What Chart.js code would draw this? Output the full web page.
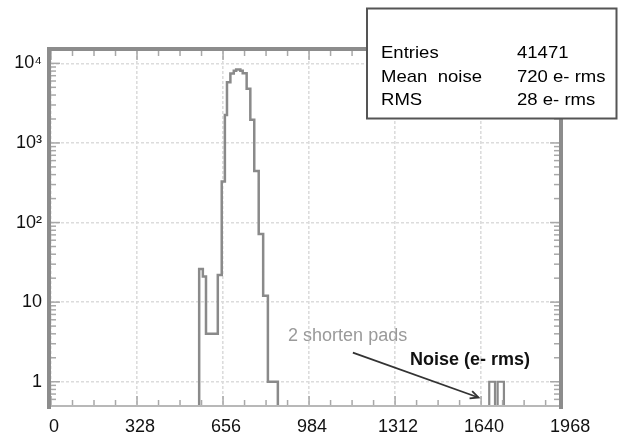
<!DOCTYPE html>
<html><head><meta charset="utf-8">
<script src="https://cdn.jsdelivr.net/npm/chart.js@4"></script>
<style>html,body{margin:0;padding:0;background:#fff;}</style>
</head><body>
<canvas id="c" width="618" height="436"></canvas>
<script>
// ---- data ----
const binEdges  = [565, 579, 591, 636, 651, 663, 671, 684, 697, 706, 722, 731, 746, 760, 775, 792, 809, 827, 865];
const binCounts = [26, 21, 4, 22, 327, 2250, 5800, 7480, 8100, 8350, 8050, 7500, 4800, 1950, 445, 72, 12, 1];
const padEdges  = [1671, 1693, 1703, 1727];
const padCounts = [1, 0, 1];
const xTicks = [0, 328, 656, 984, 1312, 1640, 1968];
const yTicks = [1, 10, 100, 1000, 10000];
const yTickLabels = ['1', '10', '10\u00B2', '10\u00B3', '10\u2074'];
const statNames  = ['Entries', 'Mean  noise', 'RMS'];
const statValues = ['41471', '720 e- rms', '28 e- rms'];
const noteText = '2 shorten pads';
const axisTitle = 'Noise (e- rms)';

const X_MIN = 0, X_MAX = 1937, Y_MIN = 0.51, Y_MAX = 14300, FLOOR = 0.1;
const FONT = '"Liberation Sans", Arial, sans-serif';

function stepPoints(edges, counts) {
  const pts = [{x: edges[0], y: FLOOR}];
  for (let i = 0; i < counts.length; i++) pts.push({x: edges[i], y: counts[i] > 0 ? counts[i] : FLOOR});
  pts.push({x: edges[edges.length - 1], y: FLOOR});
  return pts;
}

const framePlugin = {
  id: 'frame',
  afterDatasetsDraw(chart) {
    const ctx = chart.ctx, a = chart.chartArea, xs = chart.scales.x, ys = chart.scales.y;
    ctx.save();
    ctx.strokeStyle = '#a8a8a8'; ctx.lineWidth = 1.5;
    for (let v = 0; v <= X_MAX; v += 82) {
      const px = xs.getPixelForValue(v);
      const major = (v % 328 === 0);
      const len = major ? 9 : 5;
      ctx.beginPath(); ctx.moveTo(px, a.bottom); ctx.lineTo(px, a.bottom - len); ctx.stroke();
      ctx.beginPath(); ctx.moveTo(px, a.top); ctx.lineTo(px, a.top + len); ctx.stroke();
    }
    for (let d = -1; d <= 4; d++) {
      for (let k = 1; k <= 9; k++) {
        const v = k * Math.pow(10, d);
        if (v < Y_MIN || v > Y_MAX) continue;
        const py = ys.getPixelForValue(v);
        const len = k === 1 ? 9 : 5;
        ctx.beginPath(); ctx.moveTo(a.left, py); ctx.lineTo(a.left + len, py); ctx.stroke();
        ctx.beginPath(); ctx.moveTo(a.right, py); ctx.lineTo(a.right - len, py); ctx.stroke();
      }
    }
    ctx.strokeStyle = '#b8b8b8'; ctx.lineWidth = 2;
    ctx.beginPath(); ctx.moveTo(a.left - 4, a.bottom + 1); ctx.lineTo(a.right + 4, a.bottom + 1); ctx.stroke();
    ctx.strokeStyle = '#8c8c8c'; ctx.lineWidth = 4;
    ctx.beginPath();
    ctx.moveTo(a.left - 2, a.bottom + 4); ctx.lineTo(a.left - 2, a.top - 2);
    ctx.lineTo(a.right + 2, a.top - 2); ctx.lineTo(a.right + 2, a.bottom + 4);
    ctx.stroke();

    ctx.font = '18px ' + FONT; ctx.fillStyle = '#9a9a9a'; ctx.textBaseline = 'middle'; ctx.textAlign = 'left';
    ctx.fillText(noteText, xs.getPixelForValue(904), ys.getPixelForValue(3.76));
    ctx.font = 'bold 18px ' + FONT; ctx.fillStyle = '#111';
    ctx.fillText(axisTitle, xs.getPixelForValue(1369), ys.getPixelForValue(1.88));
    const x1 = xs.getPixelForValue(1151), y1 = ys.getPixelForValue(2.32);
    const x2 = xs.getPixelForValue(1630), y2 = ys.getPixelForValue(0.634);
    ctx.strokeStyle = '#333'; ctx.lineWidth = 1.8;
    ctx.beginPath(); ctx.moveTo(x1, y1); ctx.lineTo(x2, y2); ctx.stroke();
    const ang = Math.atan2(y2 - y1, x2 - x1), L = 9;
    ctx.beginPath();
    ctx.moveTo(x2 - L * Math.cos(ang - 0.45), y2 - L * Math.sin(ang - 0.45));
    ctx.lineTo(x2, y2);
    ctx.lineTo(x2 - L * Math.cos(ang + 0.45), y2 - L * Math.sin(ang + 0.45));
    ctx.stroke();
    ctx.restore();
  },
  afterDraw(chart) {
    const ctx = chart.ctx;
    ctx.save();
    ctx.fillStyle = '#fff'; ctx.strokeStyle = '#555'; ctx.lineWidth = 2;
    ctx.fillRect(367, 8.5, 249.5, 110);
    ctx.strokeRect(367, 8.5, 249.5, 110);
    ctx.font = '17px ' + FONT; ctx.fillStyle = '#000'; ctx.textBaseline = 'middle';
    const rows = [53, 77, 100];
    for (let i = 0; i < statNames.length; i++) {
      ctx.save(); ctx.translate(381, rows[i]); ctx.scale(1.09, 1);
      ctx.fillText(statNames[i], 0, 0); ctx.restore();
      ctx.save(); ctx.translate(517, rows[i]); ctx.scale(1.09, 1);
      ctx.fillText(statValues[i], 0, 0); ctx.restore();
    }
    ctx.restore();
  }
};

new Chart(document.getElementById('c'), {
  type: 'line',
  data: {
    datasets: [
      {data: stepPoints(binEdges, binCounts), stepped: 'before', borderColor: '#8a8a8a', borderWidth: 2.5, pointRadius: 0, fill: false},
      {data: stepPoints(padEdges, padCounts), stepped: 'before', borderColor: '#8a8a8a', borderWidth: 2.2, pointRadius: 0, fill: false}
    ]
  },
  options: {
    responsive: false, animation: false, devicePixelRatio: 1,
    layout: {padding: {top: 51, right: 59, left: 0, bottom: 0}},
    plugins: {legend: {display: false}, tooltip: {enabled: false}},
    scales: {
      x: {
        type: 'linear', min: X_MIN, max: X_MAX,
        afterBuildTicks: s => { s.ticks = xTicks.map(v => ({value: v})); },
        afterFit: s => { s.height = 31; },
        ticks: {autoSkip: false, maxRotation: 0, padding: 11, labelOffset: 3, color: '#111', font: {family: FONT, size: 18},
                callback: v => String(v)},
        grid: {drawTicks: false, lineWidth: 1.6,
               color: c => (c.tick && c.tick.value > X_MAX) ? 'rgba(0,0,0,0)' : '#dcdcdc'},
        border: {display: false, dash: [3, 2]}
      },
      y: {
        type: 'logarithmic', min: Y_MIN, max: Y_MAX,
        afterBuildTicks: s => { s.ticks = yTicks.map(v => ({value: v})); },
        afterFit: s => { s.width = 51; },
        ticks: {autoSkip: false, padding: 9, color: '#111', font: {family: FONT, size: 18},
                callback: v => yTickLabels[yTicks.indexOf(v)]},
        grid: {drawTicks: false, lineWidth: 1.6, color: '#dcdcdc'},
        border: {display: false, dash: [3, 2]}
      }
    }
  },
  plugins: [framePlugin]
});
</script>
</body></html>
